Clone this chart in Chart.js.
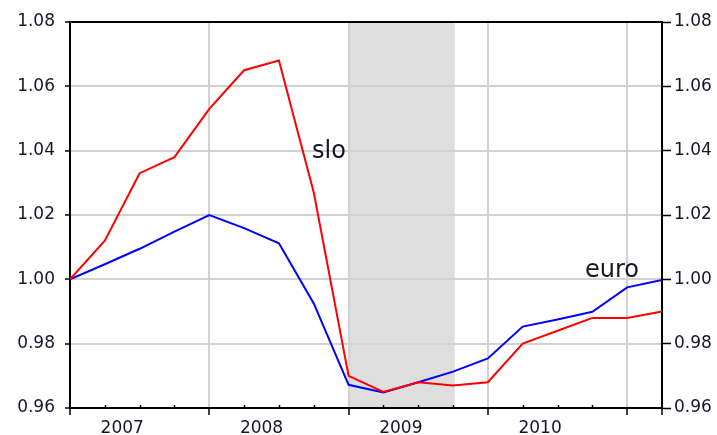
<!DOCTYPE html>
<html>
<head>
<meta charset="utf-8">
<script src="https://cdn.jsdelivr.net/npm/chart.js@4.4.1/dist/chart.umd.min.js"></script>
<style>
  body { margin: 0; background: #fff; }
  canvas { display: block; }
</style>
</head>
<body>
<canvas id="myChart" width="717" height="435"></canvas>
<script>
// quarterly index, 2007Q1 = 1
const quarters = ['2007Q1','2007Q2','2007Q3','2007Q4','2008Q1','2008Q2','2008Q3','2008Q4',
                  '2009Q1','2009Q2','2009Q3','2009Q4','2010Q1','2010Q2','2010Q3','2010Q4',
                  '2011Q1','2011Q2']
const slo  = [1.000, 1.012, 1.033, 1.038, 1.053, 1.065, 1.068, 1.027,
              0.970, 0.965, 0.968, 0.967, 0.968, 0.980, 0.984, 0.988, 0.988, 0.990]
const euro = [1.000, 1.0047, 1.0095, 1.0148, 1.020, 1.0159, 1.0112, 0.9925,
              0.9672, 0.9648, 0.968, 0.9713, 0.9754, 0.9853, 0.9875, 0.9899, 0.9975, 0.9998]
const years = ['2007', '2008', '2009', '2010']
const yTicks = [0.96, 0.98, 1.00, 1.02, 1.04, 1.06, 1.08]
// recession band (quarter index)
const shadeFrom = 8
const shadeTo = 11.05
const seriesLabels = [
  { text: 'slo',  x: 6.95,  y: 1.0377 },
  { text: 'euro', x: 14.79, y: 1.0007 }
]

const font = { family: 'DejaVu Sans', size: 17 }
const textColor = '#16162a'
const gridColor = '#d2d2d2'

const isMajor = v => v % 4 === 0 || v === quarters.length - 1
const yearAt = v => {
  const k = (v - 1.5) / 4
  return Number.isInteger(k) && years[k] ? years[k] : ''
}

const extras = {
  id: 'extras',
  beforeDraw(chart) {
    const { ctx, chartArea: a, scales: { x } } = chart
    const x0 = x.getPixelForValue(shadeFrom)
    const x1 = x.getPixelForValue(shadeTo)
    ctx.save()
    ctx.fillStyle = '#dedede'
    ctx.fillRect(x0, a.top, x1 - x0, a.bottom - a.top)
    ctx.restore()
  },
  afterDatasetsDraw(chart) {
    const { ctx, chartArea: a, scales: { x, y } } = chart
    ctx.save()
    // small quarter ticks inside the frame
    ctx.strokeStyle = '#000'
    ctx.lineWidth = 1.5
    for (let i = 1; i < quarters.length - 1; i++) {
      if (isMajor(i)) continue
      const px = Math.round(x.getPixelForValue(i)) + 0.5
      ctx.beginPath()
      ctx.moveTo(px, a.bottom)
      ctx.lineTo(px, a.bottom - 3)
      ctx.stroke()
    }
    ctx.fillStyle = textColor
    ctx.font = '24px "DejaVu Sans"'
    ctx.textAlign = 'left'
    ctx.textBaseline = 'alphabetic'
    seriesLabels.forEach(l => {
      ctx.fillText(l.text, x.getPixelForValue(l.x), y.getPixelForValue(l.y))
    })
    ctx.restore()
  }
}

const halfSteps = []
for (let v = 0; v <= quarters.length - 1; v += 0.5) halfSteps.push(v)

const ctx = document.getElementById('myChart').getContext('2d')
const myChart = new Chart(ctx, {
  type: 'line',
  data: {
    datasets: [{
      label: 'slo',
      data: slo.map((v, i) => ({ x: i, y: v })),
      borderColor: '#ff0000',
      borderWidth: 2,
      pointRadius: 0,
      fill: false
    }, {
      label: 'euro',
      data: euro.map((v, i) => ({ x: i, y: v })),
      borderColor: '#0000ff',
      borderWidth: 2,
      pointRadius: 0,
      fill: false
    }]
  },
  options: {
    responsive: false,
    animation: false,
    devicePixelRatio: 1,
    layout: { padding: 0 },
    plugins: {
      legend: { display: false },
      tooltip: { enabled: false }
    },
    scales: {
      x: {
        type: 'linear',
        position: 'bottom',
        min: 0,
        max: quarters.length - 1,
        afterBuildTicks: axis => { axis.ticks = halfSteps.map(v => ({ value: v })) },
        afterFit: s => { s.height = 27 },
        grid: {
          color: c => (c.tick && c.tick.value > 0 && c.tick.value < quarters.length - 1 && c.tick.value % 4 === 0) ? gridColor : 'rgba(0,0,0,0)',
          lineWidth: 2,
          tickLength: 7,
          tickWidth: 1.5,
          tickColor: c => (c.tick && isMajor(c.tick.value)) ? '#000' : 'rgba(0,0,0,0)'
        },
        border: { color: '#000', width: 2 },
        ticks: {
          autoSkip: false,
          maxRotation: 0,
          padding: 3,
          font: font,
          color: textColor,
          callback: v => yearAt(v)
        }
      },
      xTop: {
        type: 'linear',
        position: 'top',
        min: 0,
        max: quarters.length - 1,
        afterFit: s => { s.height = 22 },
        grid: { display: false },
        border: { color: '#000', width: 2 },
        ticks: { display: false }
      },
      y: {
        position: 'left',
        min: 0.96,
        max: 1.08,
        afterBuildTicks: axis => { axis.ticks = yTicks.map(v => ({ value: v })) },
        afterFit: s => { s.width = 70 },
        grid: { color: gridColor, lineWidth: 2, tickLength: 5, tickColor: '#000', tickWidth: 1.5 },
        border: { color: '#000', width: 2 },
        ticks: { font: font, color: textColor, padding: 10, callback: v => v.toFixed(2) }
      },
      y2: {
        position: 'right',
        min: 0.96,
        max: 1.08,
        afterBuildTicks: axis => { axis.ticks = yTicks.map(v => ({ value: v })) },
        afterFit: s => { s.width = 55 },
        grid: { drawOnChartArea: false, tickLength: 9, tickColor: '#000', tickWidth: 1.5 },
        border: { color: '#000', width: 2 },
        ticks: { font: font, color: textColor, padding: 3, callback: v => v.toFixed(2) }
      }
    }
  },
  plugins: [extras]
})
</script>
</body>
</html>
